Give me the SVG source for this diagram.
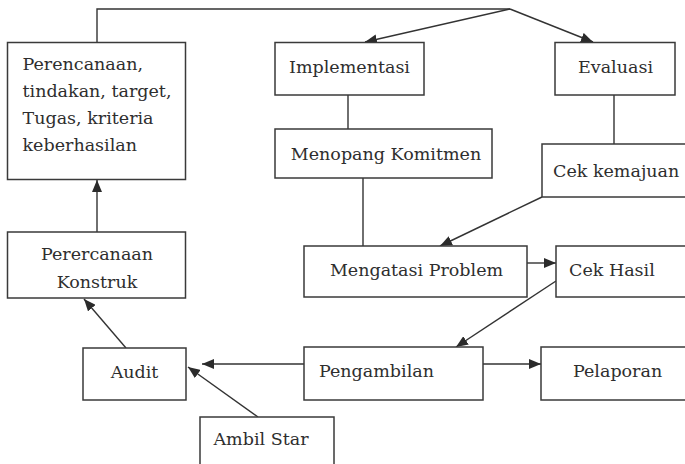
<svg xmlns="http://www.w3.org/2000/svg" width="685" height="464" viewBox="0 0 685 464">
<defs>
<marker id="ah" viewBox="0 0 12 10" refX="12" refY="5" markerWidth="12" markerHeight="10" markerUnits="userSpaceOnUse" orient="auto">
<path d="M0,0 L12,5 L0,10 Z" fill="#2b2b2b"/>
</marker>
<style>
.box{fill:#fff;stroke:#3a3a3a;stroke-width:1.5}
.t{font-family:"DejaVu Serif","Liberation Serif",serif;font-size:17.5px;fill:#2e2e2e}
.m{text-anchor:middle}
.c{fill:none;stroke:#333;stroke-width:1.4}
.a{marker-end:url(#ah)}
</style>
</defs>
<rect width="685" height="464" fill="#fff"/>
<g id="connectors">
<path class="c" d="M97,43 V9 H510"/>
<line class="c a" x1="510" y1="9" x2="365" y2="42"/>
<line class="c a" x1="510" y1="9" x2="593" y2="42"/>
<line class="c" x1="348" y1="95" x2="348" y2="129"/>
<line class="c" x1="363" y1="178" x2="363" y2="246"/>
<line class="c" x1="614" y1="95" x2="614" y2="144"/>
<line class="c a" x1="542" y1="197" x2="440" y2="246"/>
<line class="c a" x1="527" y1="263" x2="556" y2="263"/>
<line class="c a" x1="556" y1="281" x2="456" y2="347"/>
<line class="c a" x1="483" y1="364" x2="541" y2="364"/>
<line class="c a" x1="304" y1="364" x2="202" y2="364"/>
<line class="c a" x1="258" y1="417" x2="188" y2="367"/>
<line class="c a" x1="126" y1="348" x2="84" y2="299"/>
<line class="c a" x1="97" y1="232" x2="97" y2="180"/>
</g>
<g id="n-perencanaan">
<rect class="box" x="7.5" y="42.5" width="178" height="137"/>
<text class="t" x="22.5" y="70">Perencanaan,</text>
<text class="t" x="22.5" y="97">tindakan, target,</text>
<text class="t" x="22.5" y="124">Tugas, kriteria</text>
<text class="t" x="22.5" y="151">keberhasilan</text>
</g>
<g id="n-implementasi">
<rect class="box" x="275" y="42.5" width="149" height="52.5"/>
<text class="t m" x="349.5" y="73">Implementasi</text>
</g>
<g id="n-evaluasi">
<rect class="box" x="555" y="42.5" width="120" height="52.5"/>
<text class="t m" x="615.5" y="73">Evaluasi</text>
</g>
<g id="n-menopang">
<rect class="box" x="275" y="129" width="217" height="49"/>
<text class="t m" x="386" y="160">Menopang Komitmen</text>
</g>
<g id="n-cekkemajuan">
<rect class="box" x="542" y="144" width="150" height="53"/>
<text class="t" x="553" y="177">Cek kemajuan</text>
</g>
<g id="n-mengatasi">
<rect class="box" x="304" y="246" width="223" height="51"/>
<text class="t m" x="416.5" y="276">Mengatasi Problem</text>
</g>
<g id="n-cekhasil">
<rect class="box" x="556" y="246" width="140" height="51"/>
<text class="t" x="569" y="276">Cek Hasil</text>
</g>
<g id="n-pengambilan">
<rect class="box" x="304" y="347" width="179" height="53"/>
<text class="t" x="319" y="377">Pengambilan</text>
</g>
<g id="n-pelaporan">
<rect class="box" x="541" y="347" width="150" height="53"/>
<text class="t" x="573" y="377">Pelaporan</text>
</g>
<g id="n-konstruk">
<rect class="box" x="7.5" y="232" width="178" height="66"/>
<text class="t m" x="97" y="260">Perercanaan</text>
<text class="t m" x="97" y="288">Konstruk</text>
</g>
<g id="n-audit">
<rect class="box" x="83" y="348" width="103" height="52"/>
<text class="t m" x="134.5" y="378">Audit</text>
</g>
<g id="n-ambilstar">
<rect class="box" x="200" y="417" width="134" height="60"/>
<text class="t m" x="261" y="445">Ambil Star</text>
</g>
</svg>
